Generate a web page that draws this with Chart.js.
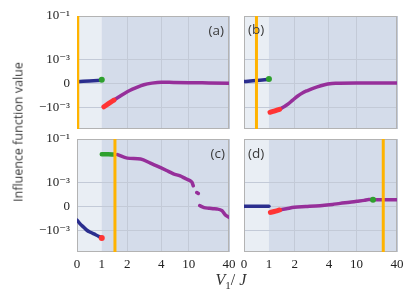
<!DOCTYPE html>
<html>
<head>
<meta charset="utf-8">
<script src="https://cdn.jsdelivr.net/npm/chart.js@4.4.1/dist/chart.umd.min.js"></script>
<style>
  body { margin: 0; background: #fff; }
  #wrap { position: relative; width: 416px; height: 305px; overflow: hidden; }
  #wrap canvas { position: absolute; left: 0; top: 0; }
  .lab { position: absolute; font-family: "Open Sans", sans-serif; font-size: 13.5px; font-weight: 400;
         color: #3a3a3a; white-space: nowrap; }
  .ytitle { position: absolute; left: 18px; top: 132px; font-family: "Open Sans", sans-serif; font-size: 12.5px;
            font-weight: 400; color: #3a3a3a; white-space: nowrap; transform: translate(-50%, -50%) rotate(-90deg); }
  .xtitle { position: absolute; left: 231px; top: 281px; font-family: "Liberation Serif", serif; font-size: 16px;
            color: #333; white-space: nowrap; transform: translate(-50%, -50%); }
  .xtitle sub { font-size: 11px; font-style: normal; }
</style>
</head>
<body>
<div id="wrap">
  <canvas id="pa" width="416" height="305"></canvas>
  <canvas id="pb" width="416" height="305"></canvas>
  <canvas id="pc" width="416" height="305"></canvas>
  <canvas id="pd" width="416" height="305"></canvas>
  <div class="lab" style="left:224px;top:30px;transform:translate(-100%,-50%)">(a)</div>
  <div class="lab" style="left:248px;top:29px;transform:translate(0,-50%)">(b)</div>
  <div class="lab" style="left:225px;top:153px;transform:translate(-100%,-50%)">(c)</div>
  <div class="lab" style="left:248px;top:153px;transform:translate(0,-50%)">(d)</div>
  <div class="ytitle">Influence function value</div>
  <div class="xtitle"><i>V</i><sub>1</sub>/ <i>J</i></div>
</div>
<script>
// values on the y axis are in units of 1e-3

// axis ticks
const X_TICKS = [0, 1, 2, 4, 10, 40];
const X_TICK_LABELS = ['0', '1', '2', '4', '10', '40'];
const Y_TICKS = [-1, 0, 1, 100];
const Y_TICK_LABELS = ['\u221210\u207B\u00B3', '0', '10\u207B\u00B3', '10\u207B\u00B9'];
const Y_MIN = -10;
const Y_MAX = 100;
const SHADE_X = [0, 1];

// orange marker per panel (a, b, c, d)
const ORANGE_X = [0.03, 0.5, 1.43, 25];

// panel (a)
const A_BLUE_X = [0, 0.5, 1];
const A_BLUE_Y = [0.07, 0.10, 0.13];
const A_GREEN_X = [1];
const A_GREEN_Y = [0.15];
const A_RED_X = [1.06, 1.2, 1.39];
const A_RED_Y = [-0.98, -0.85, -0.70];
const A_PURPLE_X = [1.39, 1.6, 1.85, 2.1, 2.4, 2.8, 3.3, 4, 6, 10, 20, 40];
const A_PURPLE_Y = [-0.70, -0.56, -0.42, -0.30, -0.18, -0.06, 0.01, 0.05, 0.04, 0.03, 0.02, 0.01];

// panel (b)
const B_BLUE_X = [0, 0.5, 1];
const B_BLUE_Y = [0.08, 0.12, 0.17];
const B_GREEN_X = [1];
const B_GREEN_Y = [0.18];
const B_RED_X = [1.03, 1.15, 1.33];
const B_RED_Y = [-1.70, -1.5, -1.24];
const B_PURPLE_X = [1.33, 1.52, 1.7, 1.9, 2.1, 2.36, 2.6, 2.9, 3.4, 3.9, 5, 10, 40];
const B_PURPLE_Y = [-1.24, -0.97, -0.85, -0.70, -0.55, -0.39, -0.30, -0.21, -0.10, -0.03, 0.01, 0.02, 0.02];

// panel (c)
const C_BLUE_X = [0, 0.1, 0.27, 0.4, 0.54, 0.75, 1];
const C_BLUE_Y = [-0.57, -0.7, -0.875, -1.0, -1.24, -1.6, -2.26];
const C_RED_X = [1];
const C_RED_Y = [-2.26];
const C_GREEN_X = [1.0, 1.2, 1.39];
const C_GREEN_Y = [20, 20, 19.3];
const C_PURPLE_X = [1.53, 2, 2.62, 3.2, 3.9, 5, 6, 7.5, 9, 10.5, 11.2, 11.7, 12.4, 13.2, 13.9, 14.3, 14.6, 17, 20, 23, 26.4, 31.4, 35, 40];
const C_PURPLE_Y = [19, 13.2, 11.9, 7.8, 4.9, 3.3, 2.5, 2.0, 1.5, 1.19, 1.0, 0.86, null, 0.58, 0.54, null, 0.03, -0.05, -0.08, -0.1, -0.11, -0.18, -0.35, -0.46];

// panel (d)
const D_BLUE_X = [0, 1];
const D_BLUE_Y = [0.01, 0.01];
const D_RED_X = [1.04, 1.2, 1.33];
const D_RED_Y = [-0.25, -0.2, -0.15];
const D_PURPLE_X = [1.33, 1.6, 1.98, 2.5, 3.34, 4.5, 5.8, 8, 10.1, 13, 15.2, 20, 30, 40];
const D_PURPLE_Y = [-0.15, -0.1, -0.04, -0.01, 0.03, 0.08, 0.125, 0.17, 0.21, 0.25, 0.29, 0.28, 0.28, 0.28];
const D_GREEN_X = [17.6];
const D_GREEN_Y = [0.28];

const NAVY = '#2b2e8e';
const PURPLE = '#962f9a';
const RED = '#ff3434';
const GREEN = '#2ea02e';
const ORANGE = '#ffb300';
const GRID = '#c3cad7';
const TICK_FONT = { family: '"Liberation Serif", "DejaVu Serif", serif', size: 13 };

// --- scales ---
// symlog: linear inside +-1, one decade per unit outside
const LINTHRESH = 1;
const LINSCALE = 1.1;
function symT(v) {
  if (v === null || v === undefined) return NaN;
  const a = Math.abs(v);
  if (a <= LINTHRESH) return v / LINTHRESH * LINSCALE;
  return Math.sign(v) * (LINSCALE + Math.log10(a / LINTHRESH));
}

// the x axis of the figure: linear from 0 to 1, then log-like stretches between ticks
const X_KNOT_POS = [0, 0.163, 0.331, 0.555, 0.735, 1];
function vjT(v) {
  if (v === null || v === undefined) return NaN;
  for (let i = 0; i < X_TICKS.length - 1; i++) {
    const a = X_TICKS[i], b = X_TICKS[i + 1];
    if (v <= b || i === X_TICKS.length - 2) {
      const r = i === 0 ? (v - a) / (b - a) : Math.log(v / a) / Math.log(b / a);
      return X_KNOT_POS[i] + r * (X_KNOT_POS[i + 1] - X_KNOT_POS[i]);
    }
  }
  return NaN;
}

class SymlogScale extends Chart.LinearScale {
  static id = 'symlog';
  buildTicks() { return Y_TICKS.map(v => ({ value: v })); }
  getPixelForValue(v) {
    const t0 = symT(this.min), t1 = symT(this.max);
    return this.getPixelForDecimal((symT(v) - t0) / (t1 - t0));
  }
}

class VjScale extends Chart.LinearScale {
  static id = 'vj';
  buildTicks() { return X_TICKS.map(v => ({ value: v })); }
  getPixelForValue(v) {
    return this.getPixelForDecimal(vjT(v));
  }
}

Chart.register(SymlogScale, VjScale);

// background shading + frame
const panelPlugin = {
  id: 'panelBg',
  beforeDraw(chart) {
    const { ctx, chartArea: a, scales } = chart;
    ctx.save();
    ctx.fillStyle = '#d4dcea';
    ctx.fillRect(a.left, a.top, a.width, a.height);
    const x0 = scales.x.getPixelForValue(SHADE_X[0]);
    const x1 = scales.x.getPixelForValue(SHADE_X[1]);
    ctx.fillStyle = '#e9eef4';
    ctx.fillRect(x0, a.top, x1 - x0, a.height);
    ctx.restore();
  },
  beforeDatasetsDraw(chart) {
    const { ctx, chartArea: a } = chart;
    ctx.save();
    ctx.strokeStyle = '#b3b3b3';
    ctx.lineWidth = 1;
    ctx.strokeRect(a.left + 0.5, a.top + 0.5, a.width - 1, a.height - 1);
    ctx.restore();
  }
};

const pts = (xs, ys) => xs.map((x, i) => ({ x, y: ys[i] }));

function lineSet(xs, ys, color, width, order) {
  return {
    data: pts(xs, ys), borderColor: color, borderWidth: width, pointRadius: 0,
    borderCapStyle: 'round', borderJoinStyle: 'round', cubicInterpolationMode: 'monotone',
    spanGaps: false, order
  };
}
function dotSet(xs, ys, color, r, order) {
  return { data: pts(xs, ys), showLine: false, pointRadius: r, pointBorderWidth: 0,
           pointBackgroundColor: color, order };
}

// fix axis boxes so the plot area lands on the given box
function fixFit(size) {
  return scale => {
    if (scale.isHorizontal()) scale.height = size; else scale.width = size;
    scale.paddingLeft = scale.paddingRight = scale.paddingTop = scale.paddingBottom = 0;
  };
}

function makePanel(id, box, orangeX, datasets, showX, showY) {
  const W = 416, H = 305;
  datasets.push(lineSet([orangeX, orangeX], [Y_MIN, Y_MAX], ORANGE, 3, 0));
  new Chart(document.getElementById(id), {
    type: 'line',
    data: { datasets },
    options: {
      responsive: false,
      animation: false,
      events: [],
      layout: { padding: { left: 0, top: box[1], right: W - box[2], bottom: 0 } },
      plugins: { legend: { display: false }, tooltip: { enabled: false } },
      scales: {
        x: {
          type: 'vj', min: 0, max: 40,
          border: { display: false },
          grid: { color: c => (c.tick && c.tick.value === 1 ? 'rgba(0,0,0,0)' : GRID), lineWidth: 1, drawTicks: false },
          ticks: { display: showX, autoSkip: false, maxRotation: 0, padding: 5, color: '#222', font: TICK_FONT,
                   callback: (v, i) => X_TICK_LABELS[i] },
          afterFit: fixFit(H - box[3])
        },
        y: {
          type: 'symlog', min: Y_MIN, max: Y_MAX,
          border: { display: false },
          grid: { color: GRID, lineWidth: 1, drawTicks: false },
          ticks: { display: showY, autoSkip: false, padding: 7, color: '#222', font: TICK_FONT,
                   callback: (v, i) => Y_TICK_LABELS[i] },
          afterFit: fixFit(box[0])
        }
      }
    },
    plugins: [panelPlugin]
  });
}

makePanel('pa', [77, 16, 229, 129], ORANGE_X[0], [
  dotSet(A_GREEN_X, A_GREEN_Y, GREEN, 3, 1),
  lineSet(A_RED_X, A_RED_Y, RED, 5, 2),
  lineSet(A_BLUE_X, A_BLUE_Y, NAVY, 3.5, 3),
  lineSet(A_PURPLE_X, A_PURPLE_Y, PURPLE, 3.5, 4)
], false, true);

makePanel('pb', [244, 16, 397, 129], ORANGE_X[1], [
  dotSet(B_GREEN_X, B_GREEN_Y, GREEN, 3, 1),
  lineSet(B_RED_X, B_RED_Y, RED, 5, 2),
  lineSet(B_BLUE_X, B_BLUE_Y, NAVY, 3.5, 3),
  lineSet(B_PURPLE_X, B_PURPLE_Y, PURPLE, 3.5, 4)
], false, false);

makePanel('pc', [77, 139, 229, 252], ORANGE_X[2], [
  dotSet(C_RED_X, C_RED_Y, RED, 3, 1),
  lineSet(C_GREEN_X, C_GREEN_Y, GREEN, 4.5, 2),
  lineSet(C_BLUE_X, C_BLUE_Y, NAVY, 3.5, 3),
  lineSet(C_PURPLE_X, C_PURPLE_Y, PURPLE, 3.5, 4)
], true, true);

makePanel('pd', [244, 139, 397, 252], ORANGE_X[3], [
  dotSet(D_GREEN_X, D_GREEN_Y, GREEN, 3, 1),
  lineSet(D_RED_X, D_RED_Y, RED, 5, 2),
  lineSet(D_BLUE_X, D_BLUE_Y, NAVY, 3.5, 3),
  lineSet(D_PURPLE_X, D_PURPLE_Y, PURPLE, 3.5, 4)
], true, false);
</script>
</body>
</html>
